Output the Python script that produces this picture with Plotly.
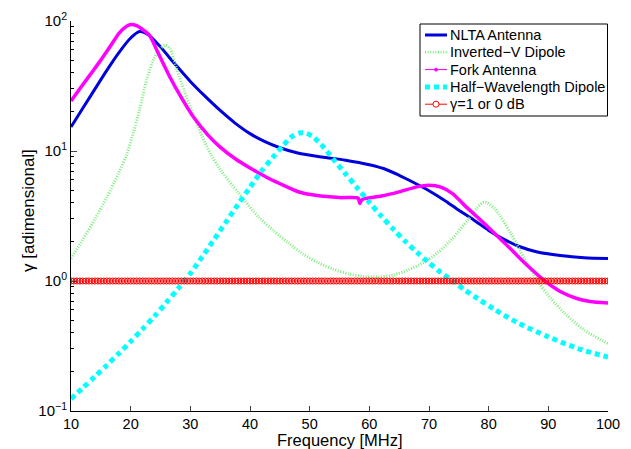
import plotly.graph_objects as go

# ---- data ----
nlta_f = [10, 12, 14, 16, 18, 20, 21.5, 23, 25, 27.5, 30, 32.5, 35, 37.5, 40, 42.5, 45, 48,
          52, 56, 60, 62.5, 65, 67.5, 70, 72.5, 75, 77.5, 80, 82.5, 85, 88, 92, 96, 100]
nlta_v = [15.3, 21.4, 29.9, 41.7, 56.9, 74, 83, 78, 63, 46.2, 34.3, 26.3, 20.5, 16.4, 13.6, 11.8, 10.6, 9.66,
          9.0, 8.5, 7.85, 7.3, 6.5, 5.7, 4.95, 4.2, 3.5, 2.95, 2.45, 2.1, 1.85, 1.68, 1.57, 1.51, 1.49]

invv_f = [10, 12, 14, 16, 18, 19.3, 20.5, 21.5, 22.7, 24, 25, 25.8, 26.6, 27.7, 29, 30.5, 32, 33.5,
          35, 38, 41.5, 44, 46.5, 49, 51.5, 54, 56.5, 59, 61.5, 64, 66.5, 69, 71.5, 74, 76.5, 78,
          79.3, 81, 83.7, 86, 88.2, 90.4, 93, 96, 100]
invv_v = [1.49, 2.09, 2.99, 4.4, 6.8, 9.3, 14.1, 20.9, 35.5, 52.5, 61.5, 65, 61, 43, 28.8, 19, 12.9, 9.3,
          7.2, 4.8, 3.09, 2.43, 1.95, 1.6, 1.38, 1.23, 1.135, 1.084, 1.072, 1.11, 1.216, 1.38, 1.66, 2.14, 2.95, 3.63,
          4.05, 3.6, 2.33, 1.48, 1.0, 0.733, 0.55, 0.42, 0.33]

fork_f = [10, 12, 13.8, 15, 16.5, 18, 19, 20, 21, 22, 23.2, 24.5, 26.5, 28.5, 30.4, 33, 35, 37.7,
          40, 43, 46, 48.2, 51, 55, 58.1, 58.4, 58.7, 59.2, 62, 65, 68, 70, 72, 74, 76, 78,
          80.4, 83.7, 86, 89.3, 92, 94.9, 97, 100]
fork_v = [24.3, 32.5, 42, 50, 63, 80, 89, 94, 92, 86, 77, 58, 37.6, 25.7, 18.6, 13.2, 10.7, 8.6,
          7.4, 6.2, 5.35, 4.84, 4.56, 4.38, 4.35, 3.95, 4.2, 4.3, 4.5, 4.85, 5.3, 5.45, 5.27, 4.68, 3.8, 3.13,
          2.47, 1.76, 1.38, 1.01, 0.83, 0.73, 0.695, 0.676]

half_f = [10, 12, 14, 16, 18, 20, 22, 24, 26, 28, 30, 32, 34, 36, 38, 40, 42, 44, 45.5, 47, 48.5,
          49.5, 50.5, 51.5, 52.5, 54, 56, 58, 60, 62, 64, 66, 68, 70, 72, 74.3, 76, 78.2, 81, 85, 90, 95, 100]
half_v = [0.124, 0.151, 0.184, 0.225, 0.277, 0.342, 0.427, 0.537, 0.684, 0.879, 1.143, 1.54, 2.09, 2.85,
          3.89, 5.25, 7.08, 9.12, 10.96, 12.9, 13.8,
          13.65, 12.9, 11.75, 10.5, 8.6, 6.68, 5.19, 4.03, 3.16, 2.51, 2.02, 1.66, 1.38, 1.16, 0.977, 0.851,
          0.73, 0.603, 0.473, 0.372, 0.302, 0.26]

ref_f = [10 + 0.5 * i for i in range(181)]
ref_v = [1.0] * len(ref_f)

x_ticks = [10, 20, 30, 40, 50, 60, 70, 80, 90, 100]
y_ticks = [0.1, 1, 10, 100]
y_ticktext = ["10<sup>−1</sup>", "10<sup>0</sup>", "10<sup>1</sup>", "10<sup>2</sup>"]
y_minor = [m * d for d in (0.1, 1, 10) for m in range(2, 10)]

names = ["NLTA Antenna", "Inverted−V Dipole", "Fork Antenna", "Half−Wavelength Dipole", "γ=1 or 0 dB"]
x_title = "Frequency [MHz]"
y_title = "γ [adimensional]"

FONT = "Liberation Sans, Arial, Helvetica, sans-serif"
W, H = 631, 449
ML, MR, MT, MB = 71, 23, 21, 38
PW, PH = W - ML - MR, H - MT - MB

styles = [
    dict(color="#0000DD", width=3),
    dict(color="#7FEC7F", width=3, dash="1px,1.6px"),
    dict(color="#FF00FF", width=3.5),
    dict(color="#00FFFF", width=5, dash="5px,4px"),
    dict(color="#FF0000", width=1),
]

fig = go.Figure()
fig.add_trace(go.Scatter(x=nlta_f, y=nlta_v, name=names[0], mode="lines",
                         line=dict(**styles[0], shape="spline", smoothing=0.8)))
fig.add_trace(go.Scatter(x=invv_f, y=invv_v, name=names[1], mode="lines",
                         line=dict(**styles[1], shape="spline", smoothing=0.8)))
fig.add_trace(go.Scatter(x=fork_f, y=fork_v, name=names[2], mode="lines",
                         line=dict(**styles[2], shape="spline", smoothing=0.6)))
fig.add_trace(go.Scatter(x=half_f, y=half_v, name=names[3], mode="lines",
                         line=dict(**styles[3], shape="spline", smoothing=0.8)))
fig.add_trace(go.Scatter(x=ref_f, y=ref_v, name=names[4], mode="lines+markers",
                         line=styles[4],
                         marker=dict(symbol="circle-open", size=6, color="#FF0000", line=dict(width=1))))


# ---- legend drawn by hand (MATLAB-style compact box) ----
def px(xp):
    return (xp - ML) / PW


def py(yp):
    return (MT + PH - yp) / PH


shapes = [dict(type="rect", xref="paper", yref="paper", x0=px(420), x1=px(607.5), y0=py(116), y1=py(24),
               line=dict(color="black", width=1), fillcolor="white", layer="above")]
annotations = []
row_y = [35, 52.3, 69.6, 86.9, 104.2]
leg_styles = [
    dict(color="#0000DD", width=3),
    dict(color="#7FEC7F", width=2.5, dash="1px,1.6px"),
    dict(color="#FF00FF", width=1),
    dict(color="#00FFFF", width=5, dash="5px,4px"),
    dict(color="#FF0000", width=1),
]
for i, (nm, ly) in enumerate(zip(names, row_y)):
    shapes.append(dict(type="line", xref="paper", yref="paper", x0=px(425), x1=px(447), y0=py(ly), y1=py(ly),
                       line=leg_styles[i], layer="above"))
    annotations.append(dict(text=nm, xref="paper", yref="paper", x=px(448), y=py(ly), xanchor="left",
                            yanchor="middle", showarrow=False, font=dict(size=14.5, family=FONT, color="black")))
# marker glyphs for Fork (dot) and γ=1 (open circle)
shapes.append(dict(type="circle", xref="paper", yref="paper", x0=px(434.5), x1=px(437.5),
                   y0=py(row_y[2] + 1.5), y1=py(row_y[2] - 1.5), line=dict(color="#FF00FF", width=1),
                   fillcolor="#FF00FF", layer="above"))
shapes.append(dict(type="circle", xref="paper", yref="paper", x0=px(433), x1=px(439),
                   y0=py(row_y[4] + 3), y1=py(row_y[4] - 3), line=dict(color="#FF0000", width=1),
                   fillcolor="white", layer="above"))

# axis titles
annotations.append(dict(text=y_title, xref="paper", yref="paper", x=px(28), y=py(211),
                        xanchor="center", yanchor="middle", textangle=-90, showarrow=False,
                        font=dict(size=17, family=FONT, color="black")))
annotations.append(dict(text=x_title, xref="paper", yref="paper", x=px(340), y=py(440),
                        xanchor="center", yanchor="middle", showarrow=False,
                        font=dict(size=16.5, family=FONT, color="black")))

fig.update_layout(
    width=W, height=H,
    margin=dict(l=ML, r=MR, t=MT, b=MB),
    paper_bgcolor="white", plot_bgcolor="white",
    font=dict(family=FONT, size=15, color="black"),
    showlegend=False,
    shapes=shapes, annotations=annotations,
)
fig.update_xaxes(range=[10, 100], tickvals=x_ticks, ticks="inside", ticklen=5, automargin=False,
                 tickfont=dict(size=14.5),
                 showline=True, linecolor="black", linewidth=1, showgrid=False, zeroline=False)
fig.update_yaxes(type="log", range=[-1, 2], tickvals=y_ticks, ticktext=y_ticktext, automargin=False,
                 ticks="inside", ticklen=6, showline=True, linecolor="black", linewidth=1,
                 showgrid=False, zeroline=False,
                 minor=dict(tickvals=y_minor, ticks="inside", ticklen=3, tickcolor="black"))

fig.write_html("out.html")
